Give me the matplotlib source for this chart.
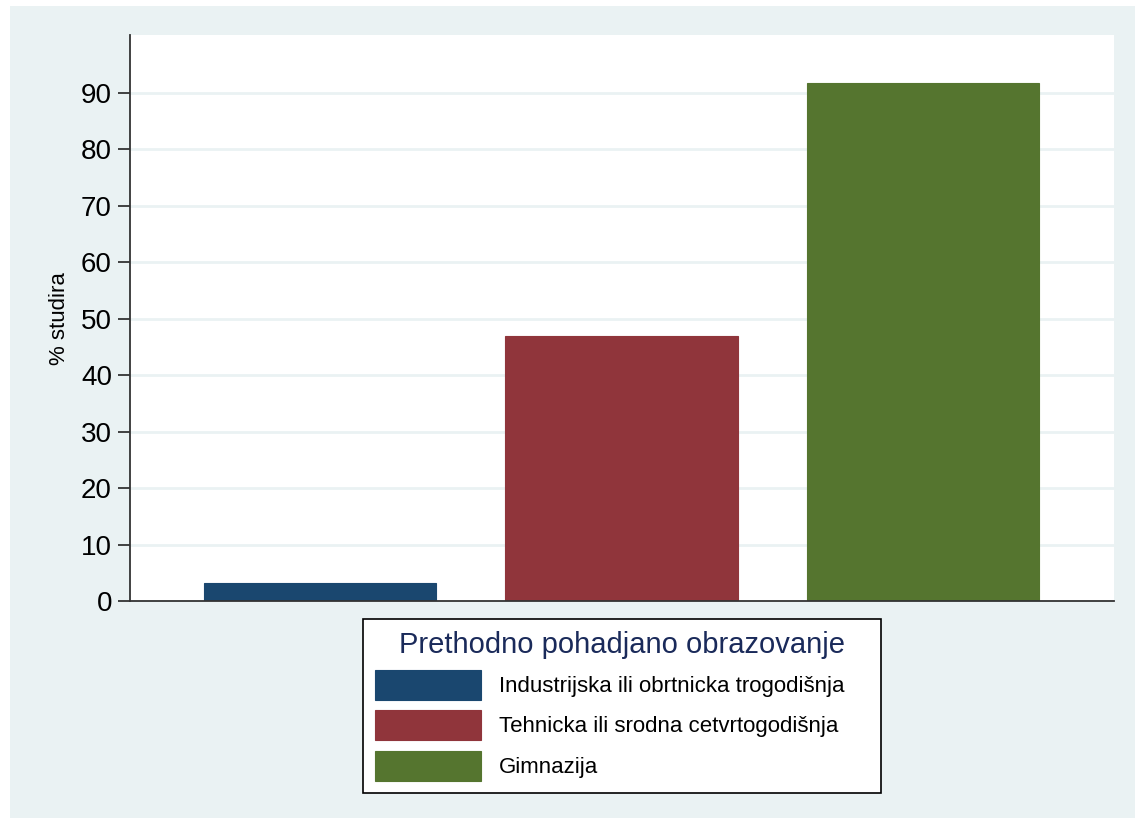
import matplotlib
matplotlib.use("Agg")
import matplotlib.pyplot as plt
from matplotlib.patches import Rectangle

categories = ["Industrijska ili obrtnicka trogodišnja",
              "Tehnicka ili srodna cetvrtogodišnja",
              "Gimnazija"]
values = [3.2, 46.9, 91.7]
colors = ["#1a476f", "#90353b", "#55752f"]
yticks = [0, 10, 20, 30, 40, 50, 60, 70, 80, 90]
ylabel = "% studira"
legend_title = "Prethodno pohadjano obrazovanje"

plt.rcParams['font.family'] = ['Liberation Sans', 'DejaVu Sans']

W, H = 1135, 823
fig = plt.figure(figsize=(W/100, H/100), dpi=100)
fig.patch.set_facecolor("white")
fig.patches.append(Rectangle((10/W, 5/H), (W-10)/W, (H-11)/H, transform=fig.transFigure,
                             facecolor="#eaf2f3", edgecolor="none", zorder=-10))

ax = fig.add_axes([130/W, (H-601.3)/H, 984/W, 566.3/H])
ax.set_facecolor("white")

bars = []
for i, (v, c, lab) in enumerate(zip(values, colors, categories)):
    b = ax.bar(i, v, width=0.77, color=c, edgecolor=c, linewidth=0.8, label=lab, zorder=3)
    bars.append(b)

ax.set_xlim(-0.63, 2.633)
ax.set_ylim(0, 100.2)
ax.set_yticks(yticks)
ax.set_yticklabels([str(t) for t in yticks], fontsize=20)
ax.set_xticks([])
ax.tick_params(axis='y', length=9, width=1.3, color="#333333", pad=4)
for t in yticks[1:]:
    ax.axhline(t, color="#eaf2f3", linewidth=2, zorder=1)

for s in ["top", "right"]:
    ax.spines[s].set_visible(False)
for s in ["left", "bottom"]:
    ax.spines[s].set_color("#333333")
    ax.spines[s].set_linewidth(1.3)
ax.spines["bottom"].set_zorder(5)

ax.set_ylabel(ylabel, fontsize=16, labelpad=8)

leg = fig.legend(handles=bars, labels=categories, loc="upper left",
                 bbox_to_anchor=(363/W, (H-619)/H, 518/W, 0), mode="expand",
                 fontsize=16,
                 title=legend_title, title_fontsize=21,
                 frameon=True, fancybox=False, edgecolor="black", facecolor="white", framealpha=1,
                 handlelength=4.77, handleheight=1.7, handletextpad=0.8,
                 labelspacing=0.47, borderpad=0.55, borderaxespad=0)
leg.get_frame().set_linewidth(1.2)
leg.get_title().set_color("#1a2a5a")

fig.savefig("out.png", dpi=100, facecolor=fig.get_facecolor())
